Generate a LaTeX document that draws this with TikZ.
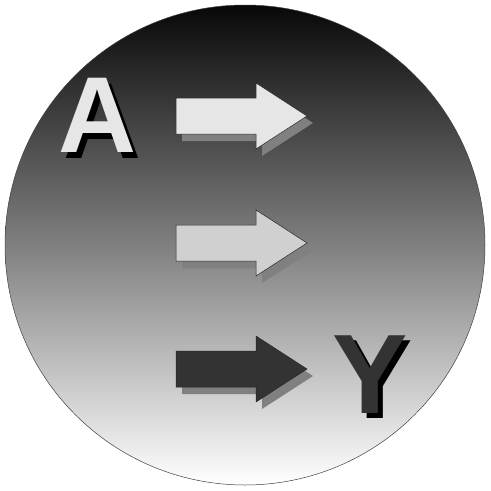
\documentclass[tikz,border=0pt]{standalone}
\usepackage{fontspec}
\setmainfont{Liberation Sans}
\definecolor{lightfill}{HTML}{E6E6E6}
\definecolor{midfill}{HTML}{D0D0D0}
\definecolor{darkfill}{HTML}{333333}
\definecolor{shadowgray}{HTML}{808080}
\tikzset{
  bigletterA/.style={inner sep=0pt, anchor=base, font=\fontsize{108}{108}\selectfont\bfseries},
  bigletterY/.style={inner sep=0pt, anchor=base, font=\fontsize{113}{113}\selectfont\bfseries},
  arrowbody/.style={draw=black!85, line width=0.5pt, line join=miter},
  arrowshadow/.style={fill=shadowgray, draw=none},
}
\newcommand{\arrowshape}[1]{(176,#1-18) -- (256,#1-18) -- (256,#1-33) -- (307,#1) -- (256,#1+33) -- (256,#1+18) -- (176,#1+18) -- cycle}
\newcommand{\arrowshapeshadow}[1]{(182,#1-11) -- (262,#1-11) -- (262,#1-26) -- (313,#1+7) -- (262,#1+40) -- (262,#1+25) -- (182,#1+25) -- cycle}
\begin{document}
\begin{tikzpicture}[x=1pt,y=-1pt]
\useasboundingbox (0,0) rectangle (491,491);
% background disc
\shade[top color=black!97, bottom color=white, middle color=black!50]
  (245,245) circle (240);
\draw[black!75, line width=0.5pt] (245,245) circle (240);
% arrows
\fill[arrowshadow] \arrowshapeshadow{116};
\filldraw[arrowbody, fill=lightfill] \arrowshape{116};
\fill[arrowshadow] \arrowshapeshadow{243};
\filldraw[arrowbody, fill=midfill] \arrowshape{243};
\fill[arrowshadow] \arrowshapeshadow{369};
\filldraw[arrowbody, fill=darkfill] \arrowshape{369};
% letters
\node[bigletterA, text=black] (Ashadow) at (102,158) {A};
\node[bigletterA, text=lightfill] (A) at (97,152) {A};
\node[bigletterY, text=black] (Yshadow) at (375,418) {Y};
\node[bigletterY, text=darkfill] (Y) at (370,413) {Y};
\end{tikzpicture}
\end{document}
